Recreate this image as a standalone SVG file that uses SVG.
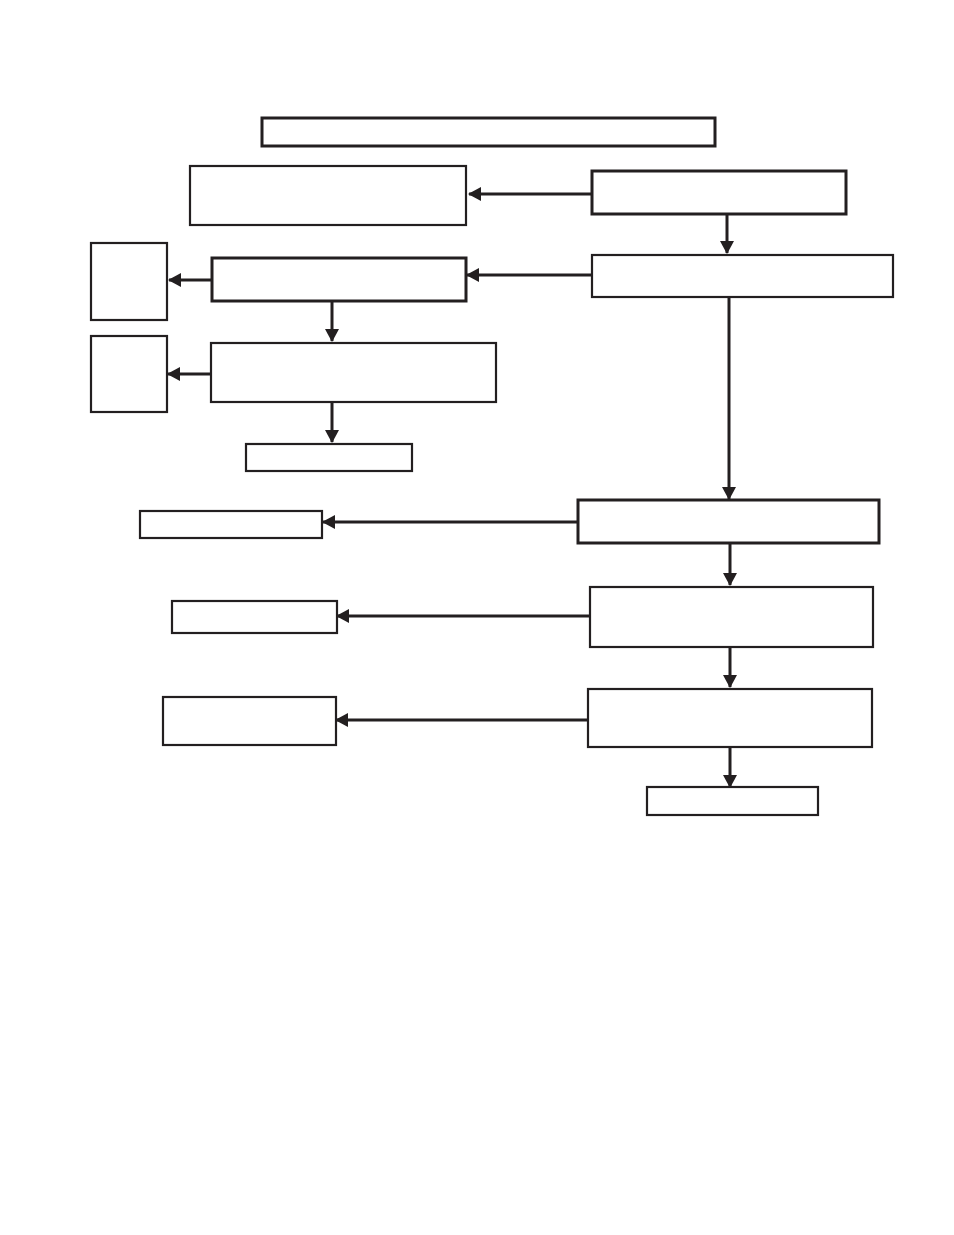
<svg xmlns="http://www.w3.org/2000/svg" width="954" height="1235" viewBox="0 0 954 1235">
<style>
.n{fill:#fff;stroke:#231f20;stroke-width:2.2}
.t{stroke-width:3}
.c{stroke:#231f20;stroke-width:3;fill:none;marker-end:url(#ah)}
</style>
<defs>
<marker id="ah" markerUnits="userSpaceOnUse" markerWidth="14" markerHeight="14" refX="12" refY="7" orient="auto">
<path d="M0,0 L13,7 L0,14 Z" fill="#231f20"/>
</marker>
</defs>
<rect width="954" height="1235" fill="#fff"/>
<g id="top"><rect class="n t" x="262" y="118" width="453" height="28"/></g>
<g id="a"><rect class="n" x="190" y="166" width="276" height="59"/></g>
<g id="b"><rect class="n t" x="592" y="171" width="254" height="43"/></g>
<g id="c"><rect class="n" x="592" y="255" width="301" height="42"/></g>
<g id="d"><rect class="n t" x="212" y="258" width="254" height="43"/></g>
<g id="e"><rect class="n" x="91" y="243" width="76" height="77"/></g>
<g id="f"><rect class="n" x="211" y="343" width="285" height="59"/></g>
<g id="g"><rect class="n" x="91" y="336" width="76" height="76"/></g>
<g id="h"><rect class="n" x="246" y="444" width="166" height="27"/></g>
<g id="i"><rect class="n t" x="578" y="500" width="301" height="43"/></g>
<g id="j"><rect class="n" x="140" y="511" width="182" height="27"/></g>
<g id="k"><rect class="n" x="590" y="587" width="283" height="60"/></g>
<g id="l"><rect class="n" x="172" y="601" width="165" height="32"/></g>
<g id="m"><rect class="n" x="588" y="689" width="284" height="58"/></g>
<g id="nn"><rect class="n" x="163" y="697" width="173" height="48"/></g>
<g id="o"><rect class="n" x="647" y="787" width="171" height="28"/></g>
<g id="connectors">
<line class="c" x1="592" y1="194" x2="469" y2="194"/>
<line class="c" x1="727" y1="214" x2="727" y2="253"/>
<line class="c" x1="592" y1="275" x2="467" y2="275"/>
<line class="c" x1="212" y1="280" x2="169" y2="280"/>
<line class="c" x1="332" y1="301" x2="332" y2="341"/>
<line class="c" x1="211" y1="374" x2="168" y2="374"/>
<line class="c" x1="332" y1="402" x2="332" y2="442"/>
<line class="c" x1="729" y1="297" x2="729" y2="499"/>
<line class="c" x1="578" y1="522" x2="323" y2="522"/>
<line class="c" x1="730" y1="543" x2="730" y2="585"/>
<line class="c" x1="590" y1="616" x2="337" y2="616"/>
<line class="c" x1="730" y1="647" x2="730" y2="687"/>
<line class="c" x1="588" y1="720" x2="336" y2="720"/>
<line class="c" x1="730" y1="747" x2="730" y2="787"/>
</g>
</svg>
